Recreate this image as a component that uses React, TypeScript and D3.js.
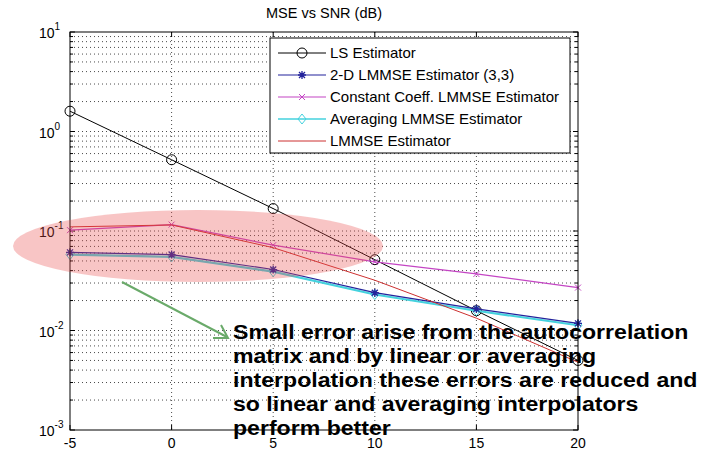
import * as d3 from "d3";

// SNR points (dB)
const snr = [-5, 0, 5, 10, 15, 20];

// MSE values per estimator
const lsMse = [1.6, 0.52, 0.168, 0.0515, 0.0158, 0.005];
const lmmse2d = [0.061, 0.058, 0.041, 0.024, 0.0165, 0.0118];
const constCoeff = [0.102, 0.116, 0.072, 0.049, 0.037, 0.027];
const averaging = [0.058, 0.055, 0.039, 0.023, 0.0158, 0.0113];
const lmmse = [0.11, 0.115, 0.068, 0.032, 0.0133, 0.0048];

const xTicks = [-5, 0, 5, 10, 15, 20];
const yDecades = [-3, -2, -1, 0, 1];

const legendLabels = [
  "LS Estimator",
  "2-D LMMSE Estimator (3,3)",
  "Constant Coeff. LMMSE Estimator",
  "Averaging LMMSE Estimator",
  "LMMSE Estimator",
];

const noteLines = [
  "Small error arise from the autocorrelation",
  "matrix and by linear or averaging",
  "interpolation these errors are reduced and",
  "so linear and averaging interpolators",
  "perform better",
];

const W = 717;
const H = 451;
const margin = { top: 32, right: 139, bottom: 21, left: 70 };
const font = "'Liberation Sans', Arial, Helvetica, sans-serif";

type Marker = "circle" | "star" | "x" | "diamond" | "none";

const series: { name: string; values: number[]; color: string; width: number; marker: Marker }[] = [
  { name: legendLabels[0], values: lsMse, color: "#000000", width: 1, marker: "circle" },
  { name: legendLabels[3], values: averaging, color: "#44d2de", width: 2.2, marker: "diamond" },
  { name: legendLabels[1], values: lmmse2d, color: "#23239b", width: 1.2, marker: "star" },
  { name: legendLabels[2], values: constCoeff, color: "#c445c4", width: 1.2, marker: "x" },
  { name: legendLabels[4], values: lmmse, color: "#cc3030", width: 1, marker: "none" },
];

const legendOrder = [0, 2, 3, 1, 4];

function markerShape(m: Marker, x: number, y: number, color: string, key: string) {
  const s = 4;
  if (m === "circle")
    return <circle key={key} cx={x} cy={y} r={5} fill="none" stroke={color} strokeWidth={1} />;
  if (m === "diamond")
    return (
      <path key={key} d={`M${x},${y - 5}L${x + 4},${y}L${x},${y + 5}L${x - 4},${y}Z`} fill="none" stroke={color} strokeWidth={1} />
    );
  if (m === "x")
    return (
      <path key={key} d={`M${x - 3},${y - 3}L${x + 3},${y + 3}M${x - 3},${y + 3}L${x + 3},${y - 3}`} stroke={color} strokeWidth={1} />
    );
  if (m === "star")
    return (
      <path
        key={key}
        d={`M${x - s},${y}L${x + s},${y}M${x},${y - s}L${x},${y + s}M${x - 3},${y - 3}L${x + 3},${y + 3}M${x - 3},${y + 3}L${x + 3},${y - 3}`}
        stroke={color}
        strokeWidth={1.3}
      />
    );
  return null;
}

export default function App() {
  const x = d3.scaleLinear().domain([-5, 20]).range([margin.left, W - margin.right]);
  const y = d3.scaleLog().domain([1e-3, 1e1]).range([H - margin.bottom, margin.top]);
  const [x0, x1] = x.range();
  const [y0, y1] = y.range();

  const line = d3
    .line<number>()
    .x((_, i) => x(snr[i]))
    .y((d) => y(d));

  const minorVals: number[] = [];
  yDecades.slice(0, -1).forEach((e) => {
    for (let k = 2; k <= 9; k++) minorVals.push(k * Math.pow(10, e));
  });

  const legend = { x: 270, y: 38, w: 300, h: 115, row: 22 };

  return (
    <div style={{ position: "absolute", left: 0, top: 0 }}>
      <svg width={W} height={H} style={{ display: "block", background: "#fff" }}>
        {/* grid */}
        <g stroke="#000" strokeWidth={1} strokeDasharray="1,3" opacity={0.7}>
          {xTicks.slice(1, -1).map((t) => (
            <line key={"gx" + t} x1={x(t)} x2={x(t)} y1={y1} y2={y0} />
          ))}
          {yDecades.slice(1, -1).map((e) => (
            <line key={"gy" + e} x1={x0} x2={x1} y1={y(Math.pow(10, e))} y2={y(Math.pow(10, e))} />
          ))}
          {minorVals.map((v) => (
            <line key={"gm" + v} x1={x0} x2={x1} y1={y(v)} y2={y(v)} />
          ))}
        </g>
        {/* ticks */}
        <g stroke="#000" strokeWidth={1}>
          {xTicks.map((t) => (
            <g key={"tx" + t}>
              <line x1={x(t)} x2={x(t)} y1={y0} y2={y0 - 5} />
              <line x1={x(t)} x2={x(t)} y1={y1} y2={y1 + 5} />
            </g>
          ))}
          {yDecades.map((e) => (
            <g key={"ty" + e}>
              <line x1={x0} x2={x0 + 5} y1={y(Math.pow(10, e))} y2={y(Math.pow(10, e))} />
              <line x1={x1} x2={x1 - 5} y1={y(Math.pow(10, e))} y2={y(Math.pow(10, e))} />
            </g>
          ))}
          {minorVals.map((v) => (
            <g key={"tm" + v}>
              <line x1={x0} x2={x0 + 3} y1={y(v)} y2={y(v)} />
              <line x1={x1} x2={x1 - 3} y1={y(v)} y2={y(v)} />
            </g>
          ))}
        </g>
        {/* series */}
        {series.map((s) => (
          <g key={s.name}>
            <path d={line(s.values) || ""} fill="none" stroke={s.color} strokeWidth={s.width} />
            {s.values.map((v, i) => markerShape(s.marker, x(snr[i]), y(v), s.color, s.name + i))}
          </g>
        ))}
        {/* axes box */}
        <rect x={x0} y={y1} width={x1 - x0} height={y0 - y1} fill="none" stroke="#000" strokeWidth={1} />
        {/* tick labels */}
        <g fontFamily={font} fontSize={14} fill="#000">
          {xTicks.map((t) => (
            <text key={"lx" + t} x={x(t)} y={y0 + 18} textAnchor="middle">
              {t}
            </text>
          ))}
          {yDecades.map((e) => (
            <text key={"ly" + e} x={x0 - 31} y={y(Math.pow(10, e)) + 6}>
              10
              <tspan fontSize={10} dy={-8}>
                {e}
              </tspan>
            </text>
          ))}
        </g>
        <text x={(x0 + x1) / 2} y={18} textAnchor="middle" fontFamily={font} fontSize={14.5}>
          MSE vs SNR (dB)
        </text>
        {/* legend */}
        <g>
          <rect x={legend.x} y={legend.y} width={legend.w} height={legend.h} fill="#fff" stroke="#000" strokeWidth={1} />
          {legendOrder.map((si, i) => {
            const s = series[si];
            const cy = legend.y + 15 + i * legend.row;
            return (
              <g key={"lg" + i}>
                <line x1={legend.x + 8} x2={legend.x + 56} y1={cy} y2={cy} stroke={s.color} strokeWidth={Math.min(s.width, 1.5)} />
                {markerShape(s.marker, legend.x + 32, cy, s.color, "lm" + i)}
                <text x={legend.x + 60} y={cy + 5} fontFamily={font} fontSize={15} fill="#000">
                  {s.name}
                </text>
              </g>
            );
          })}
        </g>
        {/* highlight ellipse */}
        <ellipse cx={198} cy={246} rx={185} ry={36} fill="#e84a4a" opacity={0.32} />
        {/* green arrow */}
        <g stroke="#6aaa6a" strokeWidth={2} fill="none">
          <line x1={122} y1={282} x2={227} y2={337} />
          <path d="M213,338L228,338L221,325" />
        </g>
        {/* note */}
        <g fontFamily={font} fontSize={21} fontWeight="bold" fill="#000" transform="translate(233,0) scale(1.1,1) translate(-233,0)">
          {noteLines.map((t, i) => (
            <text key={"n" + i} x={233} y={339 + i * 24}>
              {t}
            </text>
          ))}
        </g>
      </svg>
    </div>
  );
}
